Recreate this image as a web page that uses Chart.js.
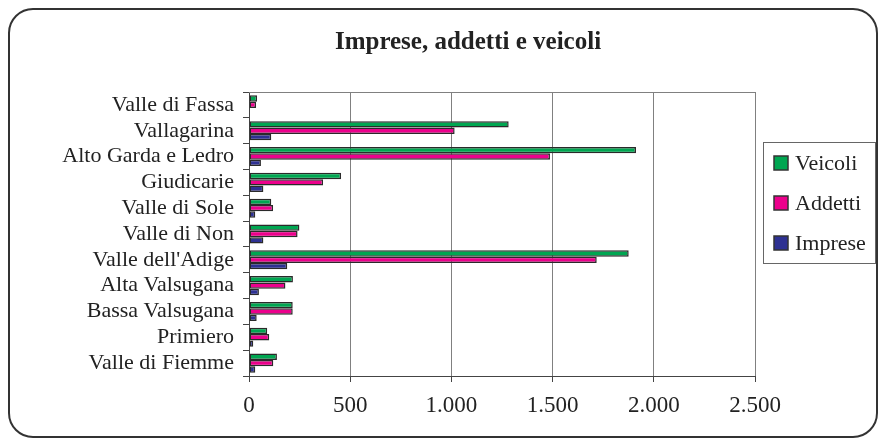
<!DOCTYPE html>
<html><head><meta charset="utf-8">
<script src="https://cdn.jsdelivr.net/npm/chart.js@4/dist/chart.umd.min.js"></script>
<style>html,body{margin:0;padding:0;background:#fff}#wrap{width:880px;height:445px;position:relative}</style>
</head><body><div id="wrap"><canvas id="c" width="880" height="445"></canvas></div>
<script>
const categories = ["Valle di Fassa","Vallagarina","Alto Garda e Ledro","Giudicarie","Valle di Sole","Valle di Non","Valle dell'Adige","Alta Valsugana","Bassa Valsugana","Primiero","Valle di Fiemme"];
const veicoli = [40, 1283, 1912, 455, 110, 249, 1876, 217, 216, 90, 138];
const addetti = [35, 1016, 1487, 366, 119, 240, 1718, 180, 216, 100, 120];
const imprese = [0, 110, 59, 71, 31, 71, 189, 49, 38, 21, 31];
const seriesNames = ["Veicoli", "Addetti", "Imprese"];
const seriesColors = ["#00a651", "#ec008c", "#2e3192"];
const xTicks = [0, 500, 1000, 1500, 2000, 2500];
const titleText = "Imprese, addetti e veicoli";

const FONT = "'Liberation Serif', 'Times New Roman', serif";
const fmt = v => String(v).replace(/\B(?=(\d{3})+(?!\d))/g, ".");

const deco = {
  id: "deco",
  beforeDraw(chart) {
    const ctx = chart.ctx;
    ctx.save();
    ctx.fillStyle = "#fff";
    ctx.fillRect(0, 0, chart.width, chart.height);
    const x0 = 9, y0 = 9, x1 = 877, y1 = 437, r = 24;
    ctx.beginPath();
    ctx.moveTo(x0 + r, y0);
    ctx.lineTo(x1 - r, y0);
    ctx.arcTo(x1, y0, x1, y0 + r, r);
    ctx.lineTo(x1, y1 - r);
    ctx.arcTo(x1, y1, x1 - r, y1, r);
    ctx.lineTo(x0 + r, y1);
    ctx.arcTo(x0, y1, x0, y1 - r, r);
    ctx.lineTo(x0, y0 + r);
    ctx.arcTo(x0, y0, x0 + r, y0, r);
    ctx.closePath();
    ctx.lineWidth = 2;
    ctx.strokeStyle = "#333";
    ctx.stroke();
    ctx.restore();
  },
  afterDraw(chart) {
    const ctx = chart.ctx, a = chart.chartArea;
    ctx.save();
    ctx.strokeStyle = "#808080";
    ctx.lineWidth = 1;
    ctx.beginPath();
    ctx.moveTo(a.left, a.top + 0.5);
    ctx.lineTo(a.right, a.top + 0.5);
    ctx.stroke();
    ctx.fillStyle = "#222";
    ctx.font = "bold 25px " + FONT;
    ctx.textAlign = "center";
    ctx.textBaseline = "middle";
    ctx.fillText(titleText, 468, 43);
    ctx.strokeStyle = "#666";
    ctx.lineWidth = 1;
    ctx.strokeRect(763.5, 142.5, 112, 121);
    const ys = [163, 203, 243];
    ctx.font = "22px " + FONT;
    ctx.textAlign = "left";
    chart.data.datasets.forEach((ds, i) => {
      ctx.fillStyle = ds.backgroundColor;
      ctx.fillRect(774, ys[i] - 7, 14, 14);
      ctx.strokeStyle = "#333";
      ctx.lineWidth = 1.5;
      ctx.strokeRect(774, ys[i] - 7, 14, 14);
      ctx.fillStyle = "#222";
      ctx.fillText(ds.label, 795, ys[i] + 1);
    });
    ctx.restore();
  }
};

const datasets = [veicoli, addetti, imprese].map((d, i) => ({
  label: seriesNames[i],
  data: d,
  backgroundColor: seriesColors[i],
  borderColor: "#2a2a2a",
  borderWidth: 1.5,
  borderSkipped: false,
  categoryPercentage: 0.74,
  barPercentage: 1.0
}));

new Chart(document.getElementById("c"), {
  type: "bar",
  data: { labels: categories, datasets },
  options: {
    indexAxis: "y",
    responsive: false,
    animation: false,
    devicePixelRatio: 1,
    layout: { padding: { left: 0, right: 125, top: 92, bottom: 0 } },
    plugins: { legend: { display: false }, title: { display: false }, tooltip: { enabled: false } },
    scales: {
      x: {
        type: "linear",
        min: 0, max: 2500,
        afterBuildTicks: s => { s.ticks = xTicks.map(v => ({ value: v })); },
        afterFit: s => { s.height = 69; },
        ticks: { callback: v => fmt(v), font: { family: FONT, size: 23 }, color: "#222", padding: 10, maxRotation: 0 },
        grid: { color: "#808080", lineWidth: 1, tickLength: 6, tickColor: "#444", drawTicks: true },
        border: { color: "#444", width: 1 }
      },
      y: {
        type: "category",
        afterFit: s => { s.width = 249; },
        ticks: { font: { family: FONT, size: 22 }, color: "#222", padding: 9, autoSkip: false },
        grid: { drawOnChartArea: false, offset: true, tickLength: 6, tickColor: "#444" },
        border: { color: "#444", width: 1 }
      }
    }
  },
  plugins: [deco]
});
</script>
</body></html>
